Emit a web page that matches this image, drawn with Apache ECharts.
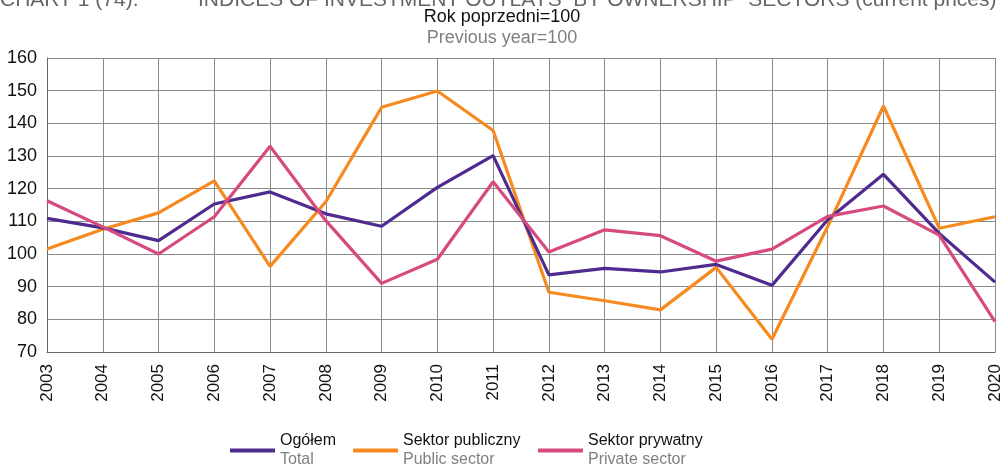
<!DOCTYPE html>
<html><head><meta charset="utf-8">
<script src="https://cdn.jsdelivr.net/npm/echarts@6/dist/echarts.min.js"></script>
<style>html,body{margin:0;padding:0;background:#fff}#c{width:1004px;height:465px}</style>
</head><body><div id="c"></div>
<script>
const years = ['2003','2004','2005','2006','2007','2008','2009','2010','2011','2012','2013','2014','2015','2016','2017','2018','2019','2020'];
const total   = [110.9,108.0,104.1,115.3,119.0,112.3,108.5,120.4,130.1,93.6,95.6,94.5,96.8,90.4,110.5,124.4,106.3,91.4];
const publicS = [101.5,107.6,112.6,122.4,96.2,116.0,144.9,149.9,137.8,88.3,85.7,82.9,95.9,73.9,108.4,145.3,107.9,111.4];
const privateS= [116.3,108.3,100.0,111.4,133.0,110.2,91.0,98.4,122.1,100.6,107.4,105.6,97.8,101.5,111.5,114.7,105.8,79.3];
const namesPL = ['Ogółem','Sektor publiczny','Sektor prywatny'];
const namesEN = ['Total','Public sector','Private sector'];
const colors = ['#4f2a8f','#f68a1e','#d64a80'];
const FONT = 'Liberation Sans, Arial, sans-serif';
const chart = echarts.init(document.getElementById('c'));
const legendFmt = n => { const i = namesPL.indexOf(n); return '{a|' + namesPL[i] + '}\n{b|' + namesEN[i] + '}'; };
const legendRich = { a:{fontSize:16,color:'#111',fontFamily:FONT,lineHeight:19}, b:{fontSize:16,color:'#808080',fontFamily:FONT,lineHeight:19} };
const lefts = [225,348,533];
chart.setOption({
  animation:false,
  backgroundColor:'#fff',
  color: colors,
  graphic:[
    {type:'text',left:0,top:-10,style:{text:'CHART 1 (74).',font:'21px '+FONT,fill:'#666'}},
    {type:'text',left:198,top:-10,style:{text:'INDICES OF INVESTMENT OUTLAYS  BY OWNERSHIP  SECTORS (current prices)',font:'21px '+FONT,fill:'#666'}},
    {type:'text',left:'center',top:8,style:{text:'Rok poprzedni=100',font:'18px '+FONT,fill:'#111'}},
    {type:'text',left:'center',top:29,style:{text:'Previous year=100',font:'18px '+FONT,fill:'#808080'}}
  ],
  legend: namesPL.map((n,i)=>({
    data:[n], left:lefts[i], top:428, itemWidth:45, itemHeight:4, icon:'rect', itemGap:8,
    formatter: legendFmt, textStyle:{rich:legendRich, fontFamily:FONT}, selectedMode:false
  })),
  grid:{left:47,right:9,top:58,bottom:113},
  xAxis:{
    type:'category', data:years, boundaryGap:false,
    axisLine:{lineStyle:{color:'#666',width:1}},
    axisTick:{show:false},
    splitLine:{show:true,lineStyle:{color:'#8a8a8a',width:1}},
    axisLabel:{rotate:90,fontSize:17,color:'#111',fontFamily:FONT,margin:12,interval:0}
  },
  yAxis:{
    type:'value', min:70, max:160, interval:10,
    axisLine:{show:true,lineStyle:{color:'#666',width:1}},
    axisTick:{show:false},
    splitLine:{lineStyle:{color:'#8a8a8a',width:1}},
    axisLabel:{fontSize:18,color:'#111',fontFamily:FONT,margin:10}
  },
  series:[
    {name:namesPL[0],type:'line',data:total,symbol:'none',lineStyle:{width:3.2,color:colors[0]},z:3},
    {name:namesPL[1],type:'line',data:publicS,symbol:'none',lineStyle:{width:3.2,color:colors[1]},z:2},
    {name:namesPL[2],type:'line',data:privateS,symbol:'none',lineStyle:{width:3.2,color:colors[2]},z:4}
  ]
});
</script></body></html>
